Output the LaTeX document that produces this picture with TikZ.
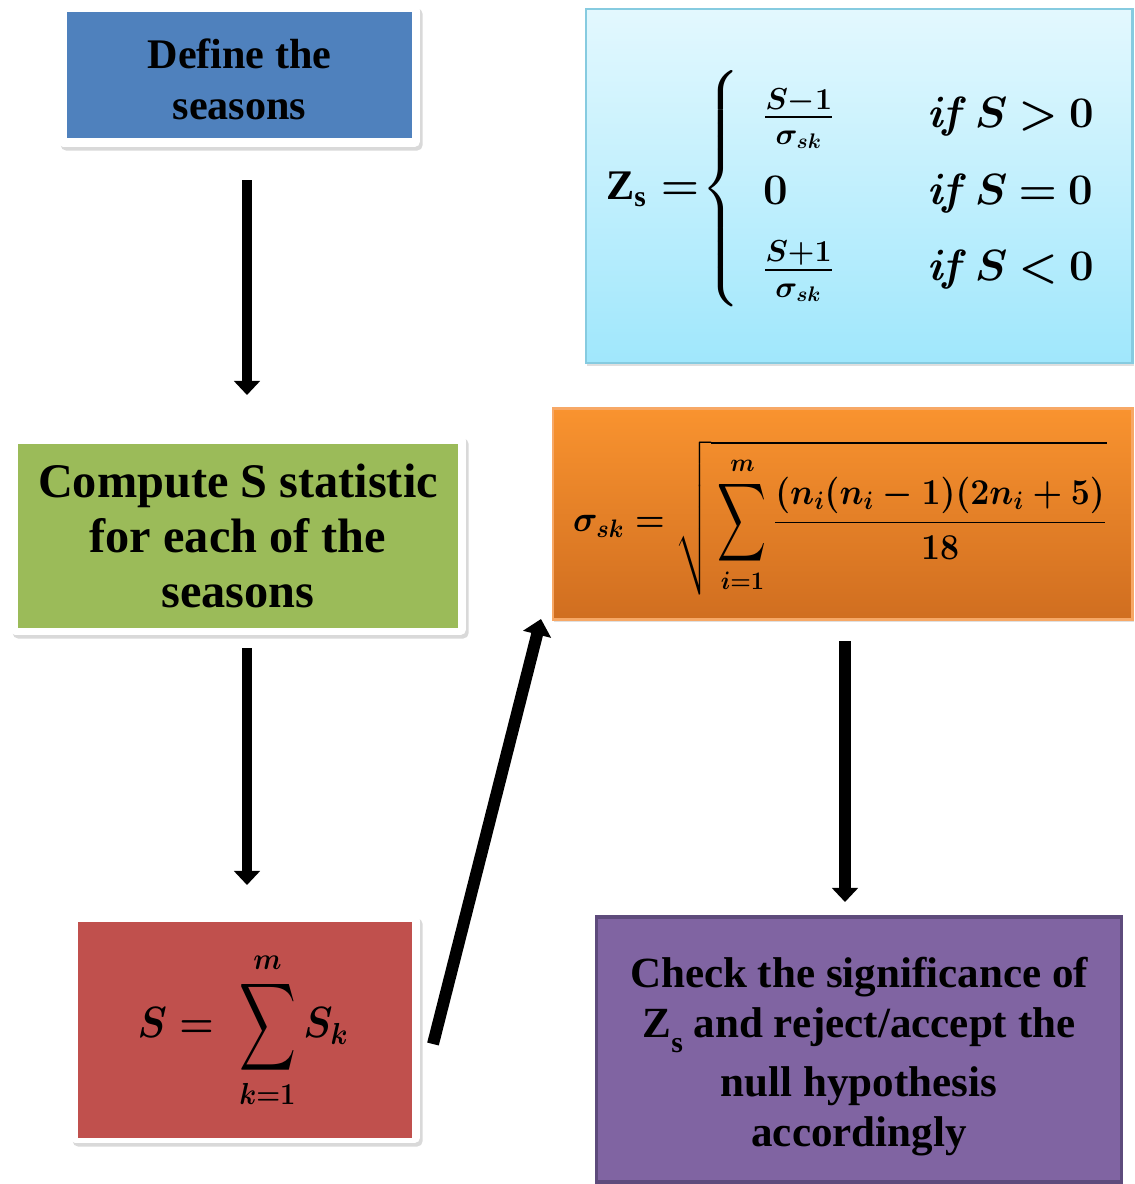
\documentclass[tikz,border=0pt]{standalone}
\usepackage{amsmath}
\usepackage{graphicx}
\usepackage[no-math]{fontspec}
\setmainfont{Liberation Serif}
\usetikzlibrary{arrows.meta,shadows}
\definecolor{cblue}{HTML}{4F81BD}
\definecolor{cgreen}{HTML}{9BBB59}
\definecolor{cred}{HTML}{C0504D}
\definecolor{cpurple}{HTML}{8064A2}
\definecolor{cpurpleb}{HTML}{5E4B7C}
\definecolor{ccyantop}{HTML}{E3F8FE}
\definecolor{ccyanbot}{HTML}{A0E7FC}
\definecolor{ccyanb}{HTML}{86CBE0}
\definecolor{corgtop}{HTML}{F9932F}
\definecolor{corgbot}{HTML}{D06E20}
\definecolor{corgb}{HTML}{F7A866}
\newcommand{\bigsum}[2]{\mathop{\vcenter{\hbox{\scalebox{#1}[#2]{\boldmath$\displaystyle\sum$}}}}\limits}
\newcommand{\condrel}[1]{\mathit{if}\mkern2mu S\mkern4mu{#1}\mkern4mu 0}
\newsavebox{\redfbox}
\newsavebox{\zsfbox}
\newsavebox{\sigfbox}
\begin{document}
\sbox{\redfbox}{\fontsize{23}{28}\selectfont\scalebox{0.9}[1]{\boldmath$\displaystyle S = \;\bigsum{1}{1.4}_{k=1}^{m} S_k$}}%
\sbox{\zsfbox}{\fontsize{24}{29}\selectfont\boldmath$\textbf{Z}_{\textbf{s}} =\mkern-4mu \left\{\renewcommand{\arraystretch}{1.5}%
  \begin{array}{@{\hspace{0.45cm}}l@{\hspace{1.85cm}}l@{}}
  \frac{\rule[-3pt]{0pt}{0pt}S-1}{\rule{0pt}{13pt}\sigma_{sk}} & \condrel{>}\\
  0 & \condrel{=}\\
  \frac{\rule[-3pt]{0pt}{0pt}S+1}{\rule{0pt}{13pt}\sigma_{sk}} & \condrel{<}
  \end{array}\right.$}%
\sbox{\sigfbox}{\fontsize{21}{26}\selectfont\scalebox{0.93}[1]{\boldmath$\displaystyle \sigma_{sk} = \sqrt{\rule[-34pt]{0pt}{80pt}\bigsum{1}{1.5}_{i=1}^{m}\frac{(n_i(n_i-1)(2n_i+5)}{18}}$}}%
\begin{tikzpicture}[x=0.02cm,y=0.02cm,
  wframe/.style={draw=none,fill=white,rounded corners=3pt,inner sep=0pt,
     drop shadow={shadow xshift=1.5pt,shadow yshift=-2pt,opacity=0.3}},
  pbox/.style={draw=none,inner sep=0pt,align=center,text=black},
  arr/.style={line width=5.8pt,-{Triangle[width=14.5pt,length=8pt]}}]
\useasboundingbox (0,0) rectangle (1135,-1184);

% Blue box
\node[wframe,minimum width=7.24cm,minimum height=2.84cm] (fb) at (239,-76) {};
\node[pbox,fill=cblue,minimum width=6.9cm,minimum height=2.52cm] (bluebox) at (239.5,-75) {};
\node[pbox,font=\fontsize{24}{29}\selectfont\bfseries] (bluetxt) at (239.5,-79) {Define the\\seasons};

% Green box
\node[wframe,minimum width=9.12cm,minimum height=4cm] (fg) at (238,-535) {};
\node[pbox,fill=cgreen,minimum width=8.8cm,minimum height=3.7cm,
  font=\fontsize{27.5}{31.5}\selectfont\bfseries] (greenbox) at (238,-536) {Compute S statistic\\for each of the\\seasons};

% Red box
\node[wframe,minimum width=7cm,minimum height=4.56cm] (fr) at (245,-1029) {};
\node[pbox,fill=cred,minimum width=6.68cm,minimum height=4.32cm] (redbox) at (245,-1030) {};
\node[pbox] (redtxt) at (243,-1030) {\usebox{\redfbox}};

% Cyan box
\node[pbox,draw=ccyanb,line width=1.2pt,top color=ccyantop,bottom color=ccyanbot,
  minimum width=10.94cm,minimum height=7.08cm,
  drop shadow={shadow xshift=1pt,shadow yshift=-1.5pt,opacity=0.25}] (cyanbox) at (859,-186) {};
\node[pbox,anchor=west] (zs) at (606,-189) {\usebox{\zsfbox}};

% Orange box
\node[pbox,draw=corgb,line width=1.2pt,top color=corgtop,bottom color=corgbot,
  minimum width=11.6cm,minimum height=4.22cm,
  drop shadow={shadow xshift=1pt,shadow yshift=-1.5pt,opacity=0.25}] (orangebox) at (842.5,-514) {};
\node[pbox] (sig) at (840,-518) {\usebox{\sigfbox}};

% Purple box
\node[pbox,draw=cpurpleb,line width=2pt,fill=cpurple,
  minimum width=10.5cm,minimum height=5.3cm] (purplebox) at (859,-1049.5) {};
\node[pbox,font=\fontsize{24.5}{28.5}\selectfont\bfseries] (purpletxt) at (859,-1057)
 {Check the significance of\\Z\raisebox{-8pt}{\fontsize{17}{20}\selectfont s} and reject/accept the\\[5pt]null hypothesis\\accordingly};

% Arrows
\coordinate (a1s) at (247,-180); \coordinate (a1e) at (247,-395);
\coordinate (a2s) at (247,-648); \coordinate (a2e) at (247,-885);
\coordinate (a3s) at (433,-1044); \coordinate (a3e) at (541,-619);
\coordinate (a4s) at (845,-641); \coordinate (a4e) at (845,-902);
\draw[arr] (a1s) -- (a1e);
\draw[arr] (a2s) -- (a2e);
\draw[line width=6.8pt,-{Triangle[width=16pt,length=9pt]}] (a3s) -- (a3e);
\draw[line width=6.6pt,-{Triangle[width=14.5pt,length=8pt]}] (a4s) -- (a4e);
\end{tikzpicture}
\end{document}
